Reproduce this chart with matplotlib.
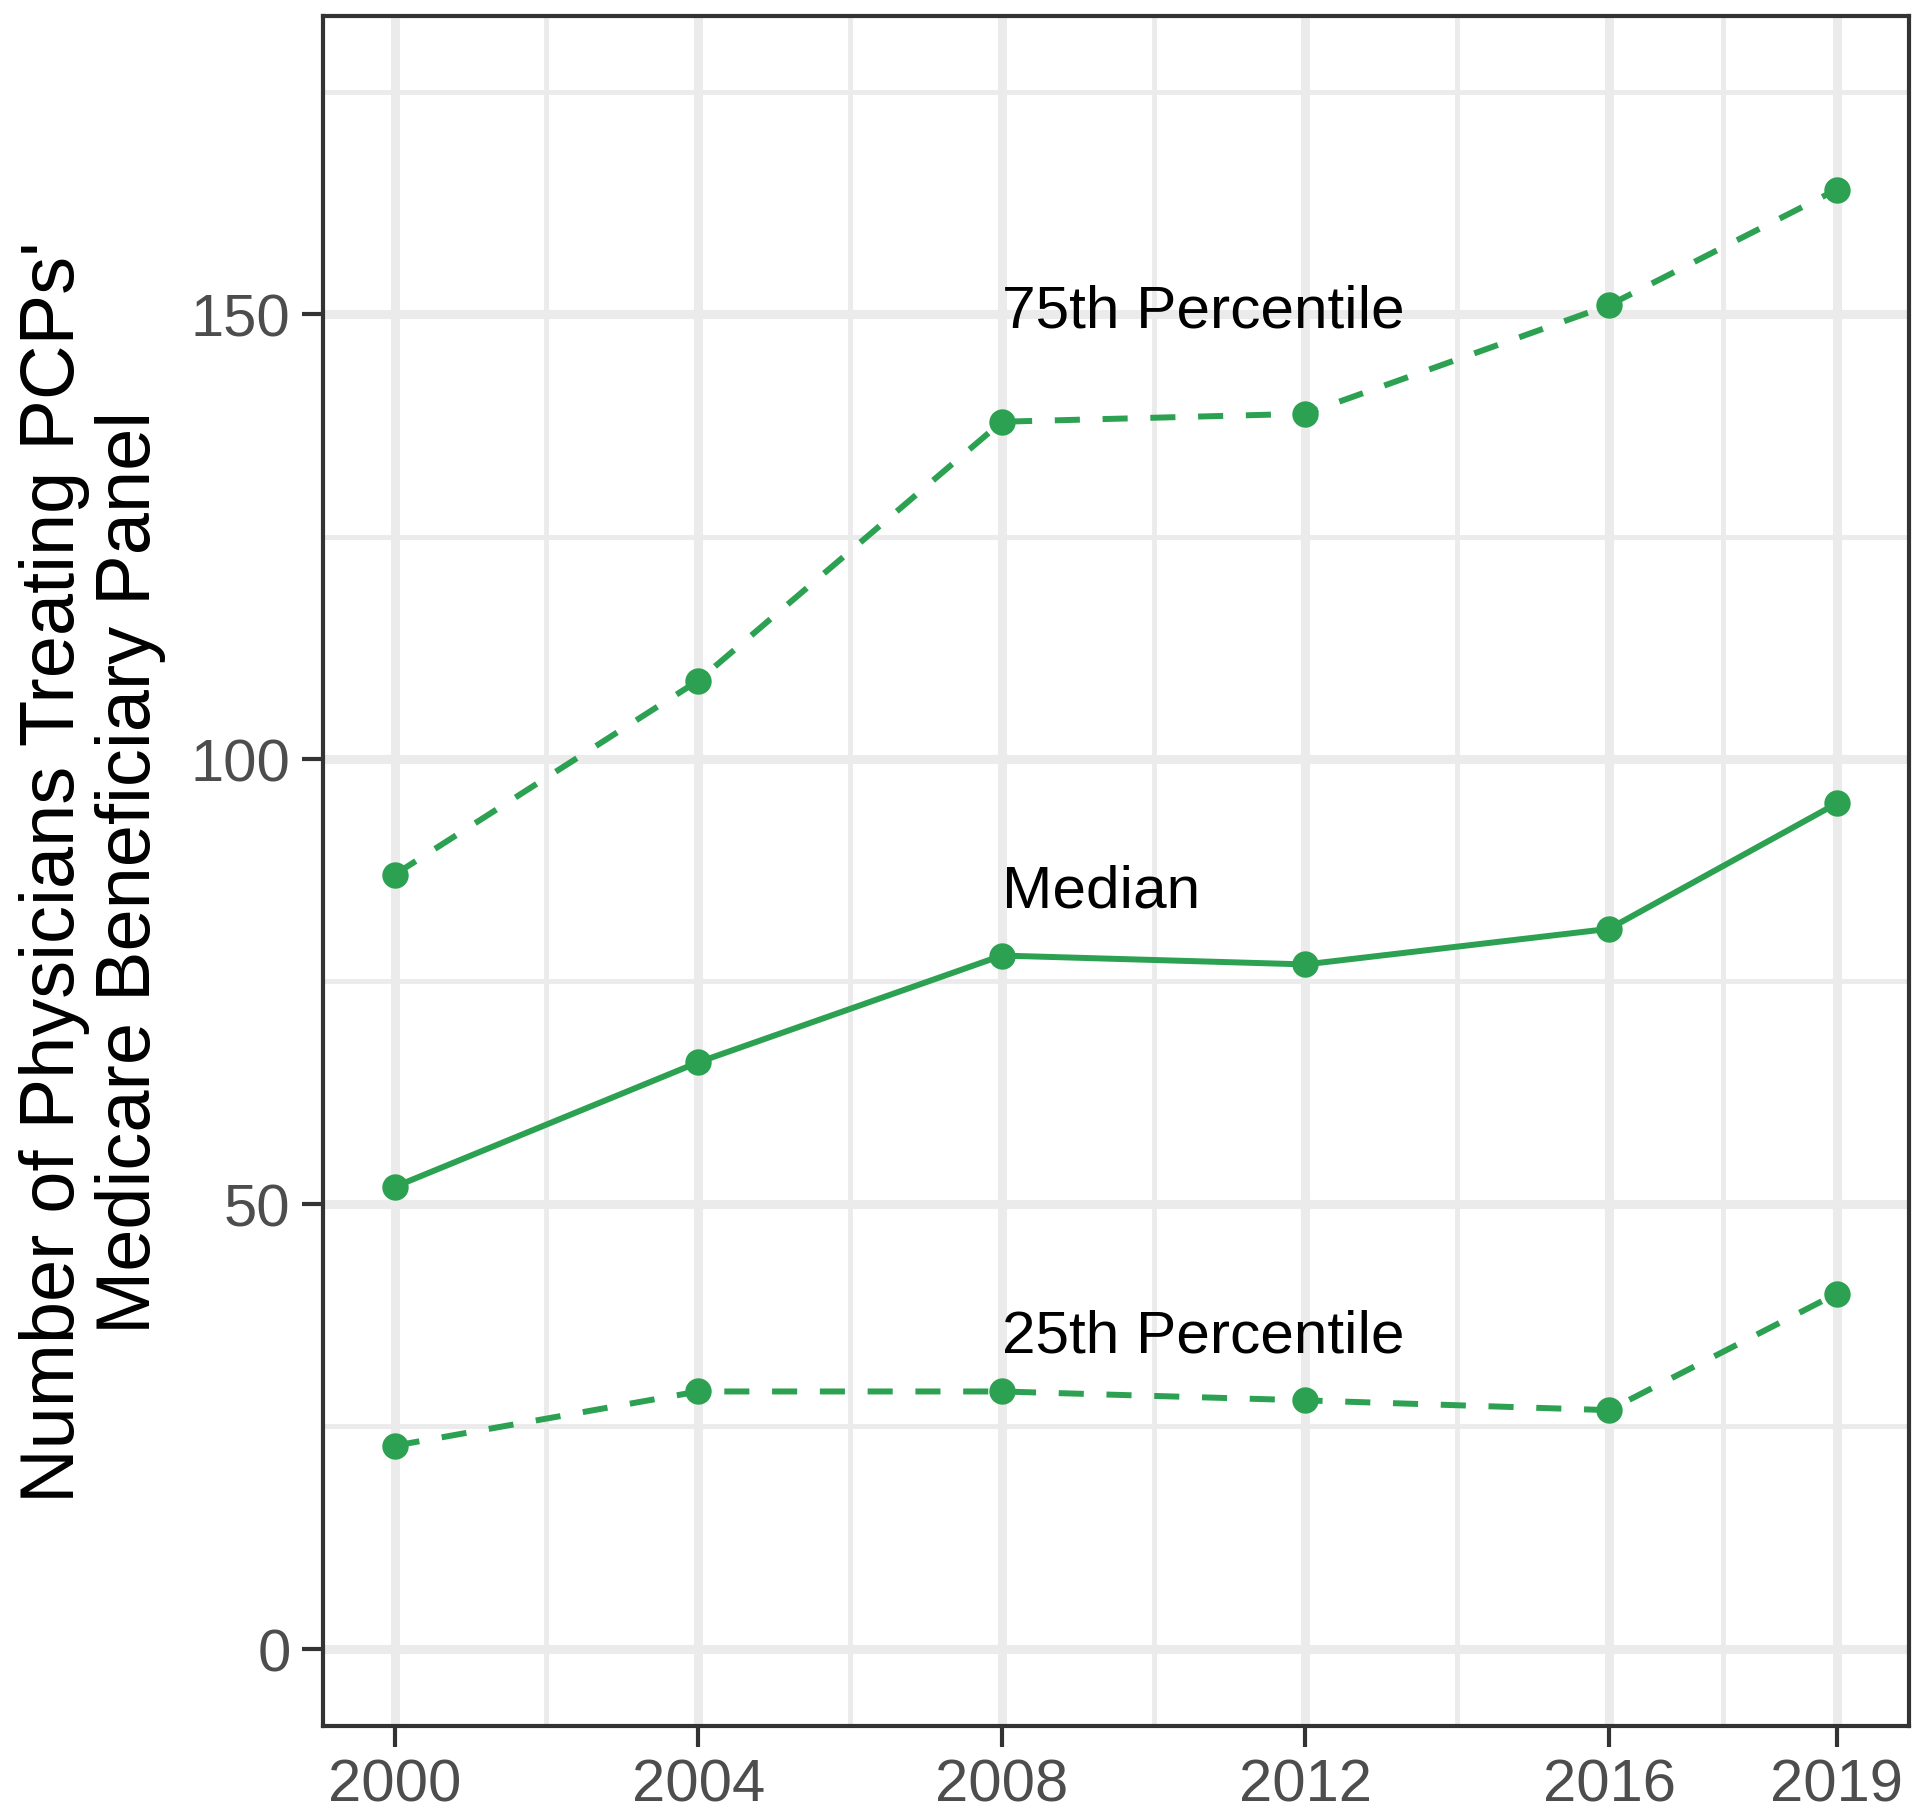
import matplotlib as mpl
import matplotlib.pyplot as plt
from matplotlib.ticker import FixedLocator

mpl.rcParams.update({
    "font.family": ["Liberation Sans", "DejaVu Sans"],
    "savefig.dpi": 100,
})

years = [2000, 2004, 2008, 2012, 2016, 2019]
p75 = [87.0, 108.8, 137.9, 138.8, 151.0, 164.0]
median = [51.9, 65.9, 77.9, 76.9, 80.9, 95.0]
p25 = [22.8, 28.9, 28.9, 27.9, 26.8, 39.9]

labels = ["75th Percentile", "Median", "25th Percentile"]
label_y = [148.6, 83.4, 33.4]
label_x = 2008

GREEN = "#2CA152"
GRID = "#EBEBEB"
DARK = "#333333"

fig = plt.figure(figsize=(19.2, 18.15))
ax = fig.add_axes([0.168, 0.0485, 0.8262, 0.9421])

lw = 4.3
ax.plot(years, p75, color=GREEN, lw=lw, dashes=(4.2, 3.8), zorder=3)
ax.plot(years, median, color=GREEN, lw=lw, zorder=3)
ax.plot(years, p25, color=GREEN, lw=lw, dashes=(4.2, 3.8), zorder=3)
for s in (p75, median, p25):
    ax.plot(years, s, "o", color=GREEN, ms=19, mew=0, zorder=4)

for t, y in zip(labels, label_y):
    ax.text(label_x, y, t, ha="left", va="baseline", fontsize=43.5, color="black", zorder=5)

ax.set_xlim(1999.05, 2019.95)
ax.set_ylim(-8.7, 183.5)
ax.set_xticks(years)
ax.set_yticks([0, 50, 100, 150])
ax.xaxis.set_minor_locator(FixedLocator([2002, 2006, 2010, 2014, 2017.5]))
ax.yaxis.set_minor_locator(FixedLocator([25, 75, 125, 175]))

ax.grid(which="major", color=GRID, lw=6.5, zorder=0)
ax.grid(which="minor", color=GRID, lw=3.5, zorder=0)
ax.set_axisbelow(True)

ax.tick_params(which="major", length=15, width=3, color=DARK,
               labelsize=43, labelcolor="#4D4D4D", pad=8)
ax.tick_params(which="minor", length=0)
for sp in ax.spines.values():
    sp.set_color(DARK)
    sp.set_linewidth(3)

ax.set_ylabel("Number of Physicians Treating PCPs'\nMedicare Beneficiary Panel",
              fontsize=54.5, color="black", labelpad=18, linespacing=1.08)

fig.savefig("out.png")
